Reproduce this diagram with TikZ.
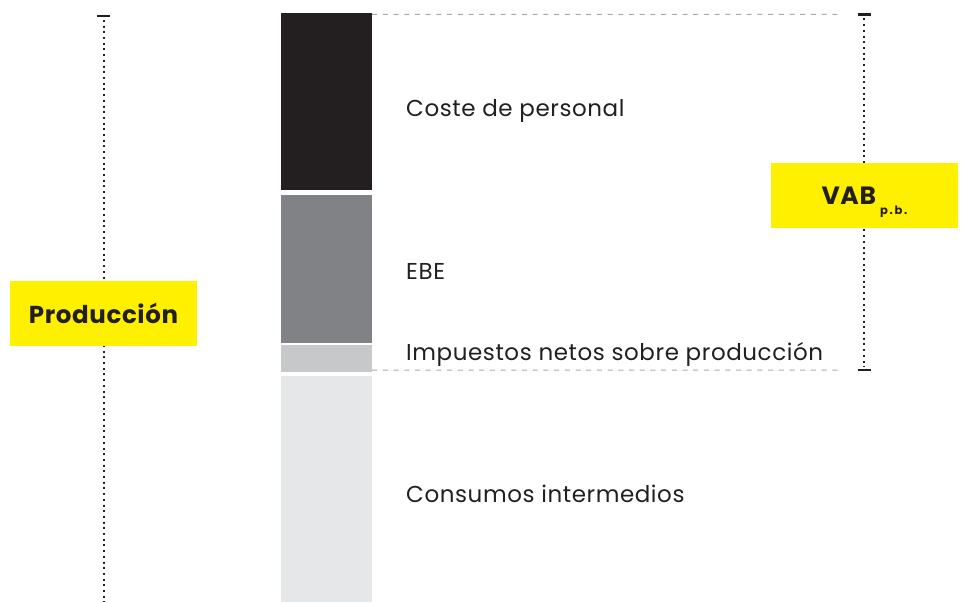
\documentclass[tikz,border=0pt]{standalone}
\usepackage{fontspec}
\setmainfont{Poppins}[LetterSpace=2.5]
\newfontfamily\subindice{Poppins}[LetterSpace=15]
\usepackage{tikz}
\usetikzlibrary{calc}
\definecolor{costegris}{HTML}{231F20}
\definecolor{ebegris}{HTML}{808285}
\definecolor{impgris}{HTML}{C7C8CA}
\definecolor{consgris}{HTML}{E6E7E8}
\definecolor{amarillo}{HTML}{FFF000}
\definecolor{guiones}{HTML}{A7A9AC}

\begin{document}
\begin{tikzpicture}[x=1pt, y=-1pt,
  bar/.style={inner sep=0pt, minimum width=91pt},
  label/.style={anchor=base west, inner sep=0pt, text=costegris, font=\fontsize{23}{26}\selectfont},
  tag/.style={fill=amarillo, inner sep=0pt, text=costegris, font=\bfseries},
  guide/.style={guiones, line width=1pt, dash pattern=on 5pt off 5.7pt},
  dots/.style={costegris, line width=2pt, dash pattern=on 2pt off 3.7pt},
  tick/.style={costegris, line width=2.6pt}]

  \useasboundingbox (0,0) rectangle (963,602);

  % ---- stacked bar ----
  \node[bar, fill=costegris, minimum height=177pt] (coste) at (326.5,101.5) {};
  \node[bar, fill=ebegris,   minimum height=148pt] (ebe)   at (326.5,269)   {};
  \node[bar, fill=impgris,   minimum height=27pt]  (imp)   at (326.5,358.5) {};
  \node[bar, fill=consgris,  minimum height=226pt] (cons)  at (326.5,489)   {};

  \node[label] (lcoste) at (406,116.5) {Coste de personal};
  \node[label] (lebe)   at (406,279)   {EBE};
  \node[label] (limp)   at (406,360)   {Impuestos netos sobre producción};
  \node[label] (lcons)  at (406,502)   {Consumos intermedios};

  % ---- guides to the VAB bracket ----
  \coordinate (vabtop) at (864,14.5);
  \coordinate (vabbot) at (864,370);
  \draw[guide] (coste.north east) ++(0,1.5) -- ($(vabtop)+(-21,0)$);
  \draw[guide] (imp.south east) ++(0,-2) -- ($(vabbot)+(-21,0)$);

  % ---- Producción bracket ----
  \coordinate (prodtop) at (103.5,16);
  \coordinate (prodbot) at (103.5,602);
  \draw[dots] (prodtop) ++(0,4) -- (prodbot);
  \draw[tick] ($(prodtop)+(-6.5,0)$) -- ($(prodtop)+(6.5,0)$);
  \node[tag, minimum width=187pt, minimum height=65pt] (prod) at (103.5,313.5)
    {\fontsize{24.5}{28}\selectfont Producción};

  % ---- VAB bracket ----
  \draw[dots] (vabtop) ++(0,4) -- ($(vabbot)+(0,-3)$);
  \draw[tick] ($(vabtop)+(-6.5,0)$) -- ($(vabtop)+(6.5,0)$);
  \draw[tick] ($(vabbot)+(-6.5,0)$) -- ($(vabbot)+(6.5,0)$);
  \node[tag, minimum width=187pt, minimum height=65pt] (vab) at (864.5,195.5)
    {\fontsize{25}{28}\selectfont VAB\,\raisebox{-10pt}[0pt][0pt]{\subindice\bfseries\fontsize{11.5}{12}\selectfont p.b.}};

\end{tikzpicture}
\end{document}
